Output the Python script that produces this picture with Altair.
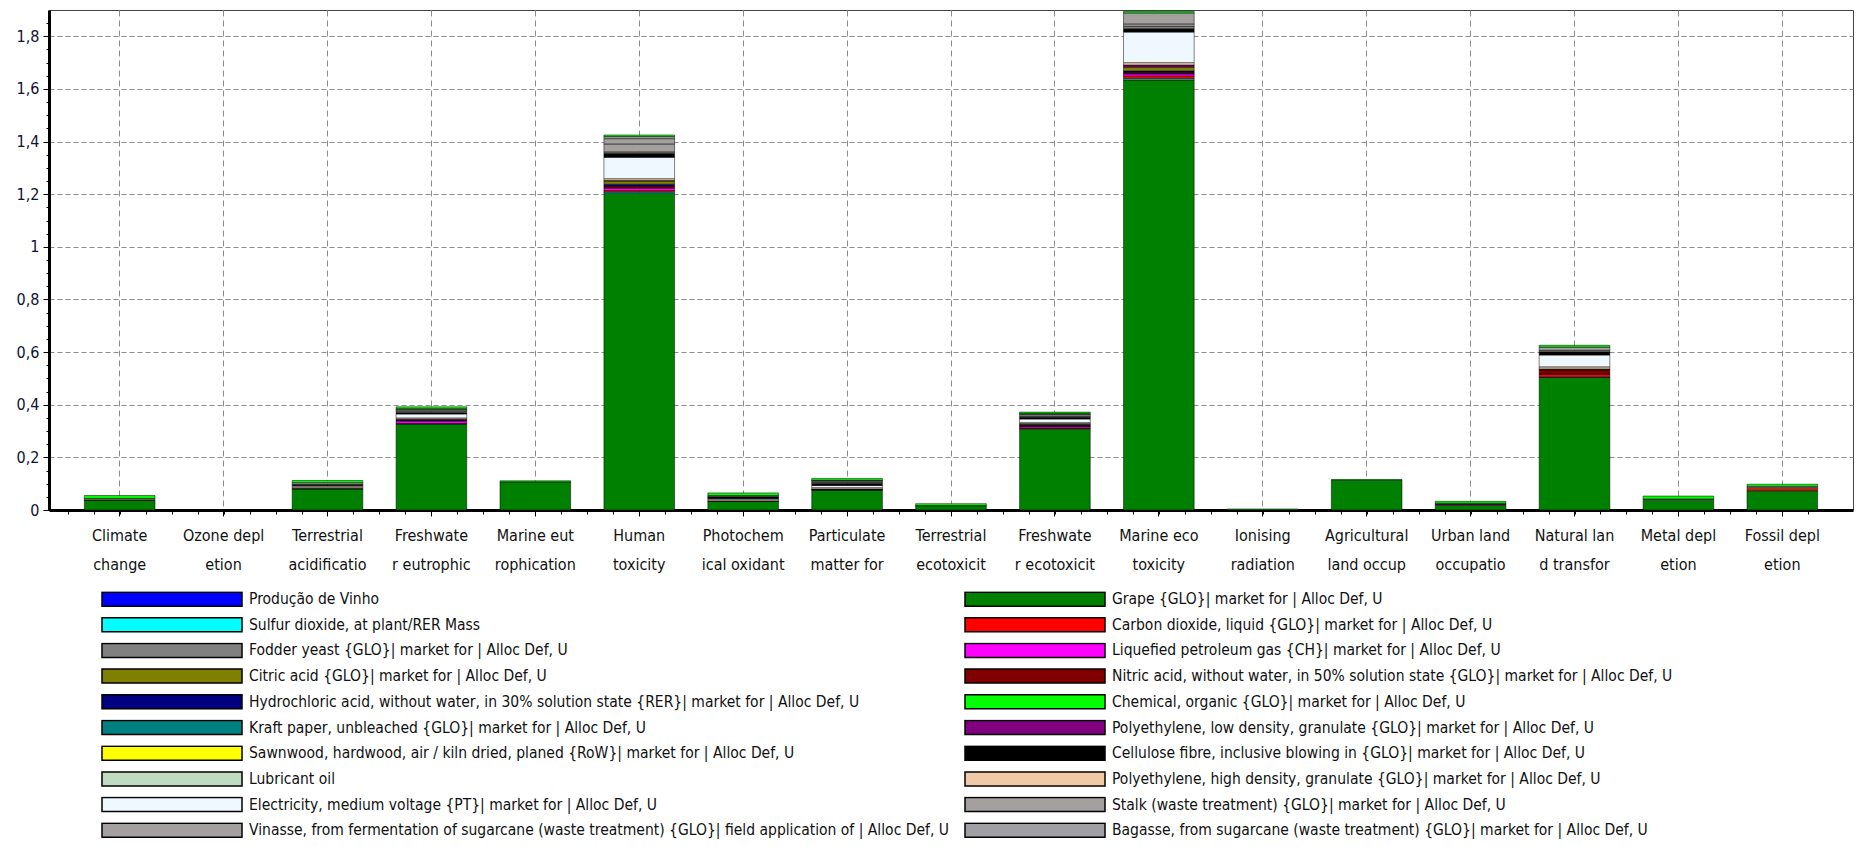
import altair as alt
import pandas as pd

FONT = "DejaVu Sans Condensed"

# x categories (two-line labels separated by "|")
categories = [
    "Climate|change", "Ozone depl|etion", "Terrestrial|acidificatio", "Freshwate|r eutrophic",
    "Marine eut|rophication", "Human|toxicity", "Photochem|ical oxidant", "Particulate|matter for",
    "Terrestrial|ecotoxicit", "Freshwate|r ecotoxicit", "Marine eco|toxicity", "Ionising|radiation",
    "Agricultural|land occup", "Urban land|occupatio", "Natural lan|d transfor", "Metal depl|etion",
    "Fossil depl|etion",
]

# legend columns
series_left = [
    "Produção de Vinho",
    "Sulfur dioxide, at plant/RER Mass",
    "Fodder yeast {GLO}| market for | Alloc Def, U",
    "Citric acid {GLO}| market for | Alloc Def, U",
    "Hydrochloric acid, without water, in 30% solution state {RER}| market for | Alloc Def, U",
    "Kraft paper, unbleached {GLO}| market for | Alloc Def, U",
    "Sawnwood, hardwood, air / kiln dried, planed {RoW}| market for | Alloc Def, U",
    "Lubricant oil",
    "Electricity, medium voltage {PT}| market for | Alloc Def, U",
    "Vinasse, from fermentation of sugarcane (waste treatment) {GLO}| field application of | Alloc Def, U",
]
colors_left = ["#0000ff", "#00ffff", "#808080", "#808000", "#000080",
               "#008080", "#ffff00", "#c0dcc0", "#f0f8ff", "#a4a0a0"]
series_right = [
    "Grape {GLO}| market for | Alloc Def, U",
    "Carbon dioxide, liquid {GLO}| market for | Alloc Def, U",
    "Liquefied petroleum gas {CH}| market for | Alloc Def, U",
    "Nitric acid, without water, in 50% solution state {GLO}| market for | Alloc Def, U",
    "Chemical, organic {GLO}| market for | Alloc Def, U",
    "Polyethylene, low density, granulate {GLO}| market for | Alloc Def, U",
    "Cellulose fibre, inclusive blowing in {GLO}| market for | Alloc Def, U",
    "Polyethylene, high density, granulate {GLO}| market for | Alloc Def, U",
    "Stalk (waste treatment) {GLO}| market for | Alloc Def, U",
    "Bagasse, from sugarcane (waste treatment) {GLO}| market for | Alloc Def, U",
]
colors_right = ["#008000", "#ff0000", "#ff00ff", "#800000", "#00ff00",
                "#800080", "#000000", "#f0caa6", "#a4a0a0", "#a0a0a4"]

# values per impact category (same order as categories)
grape        = [0.037, 0, 0.080, 0.327, 0.107, 1.204, 0.033, 0.075, 0.016, 0.307, 1.634, 0.001, 0.113, 0.018, 0.504, 0.036, 0.073]
sulfur       = [0, 0, 0.001, 0.001, 0, 0.004, 0, 0.001, 0, 0.002, 0.005, 0, 0, 0, 0.001, 0, 0]
carbon       = [0.001, 0, 0, 0.001, 0, 0.006, 0, 0.001, 0, 0.003, 0.010, 0, 0, 0, 0.010, 0, 0.009]
lpg          = [0, 0, 0.001, 0.009, 0, 0.009, 0, 0.001, 0, 0.005, 0.008, 0, 0, 0.003, 0.002, 0, 0]
nitric       = [0, 0, 0.001, 0.002, 0, 0.007, 0.001, 0.002, 0, 0.003, 0.005, 0, 0, 0, 0.015, 0, 0]
hydrochloric = [0, 0, 0, 0.002, 0, 0.008, 0, 0, 0, 0.003, 0.006, 0, 0, 0, 0.002, 0, 0]
citric       = [0, 0, 0, 0.002, 0, 0.012, 0, 0, 0, 0.004, 0.015, 0, 0, 0, 0.002, 0, 0]
pe_ld        = [0, 0, 0, 0.001, 0, 0.002, 0, 0, 0, 0.001, 0.008, 0, 0, 0.003, 0, 0, 0]
pe_hd        = [0.004, 0, 0.005, 0.005, 0, 0.007, 0.005, 0.005, 0, 0.004, 0.009, 0, 0, 0, 0.008, 0.004, 0.004]
electricity  = [0, 0, 0.004, 0.015, 0, 0.081, 0.004, 0.008, 0, 0.014, 0.116, 0, 0, 0.002, 0.045, 0, 0]
cellulose    = [0, 0, 0.004, 0.005, 0, 0.015, 0.006, 0.008, 0, 0.006, 0.013, 0, 0, 0, 0.012, 0, 0]
fodder       = [0, 0, 0.002, 0.004, 0, 0.006, 0.002, 0.004, 0, 0.004, 0.009, 0, 0, 0, 0.006, 0, 0]
stalk        = [0, 0, 0.006, 0.006, 0, 0.030, 0.004, 0.005, 0, 0.006, 0.009, 0, 0, 0, 0.012, 0, 0]
vinasse      = [0, 0, 0, 0.003, 0, 0.020, 0, 0.002, 0, 0.003, 0.042, 0, 0, 0, 0, 0, 0]
bagasse      = [0, 0, 0, 0.002, 0, 0.008, 0, 0.001, 0, 0.002, 0, 0, 0, 0, 0, 0, 0]
lubricant    = [0.002, 0, 0, 0, 0, 0, 0, 0, 0.001, 0, 0, 0, 0, 0, 0, 0.002, 0.004]
chemical     = [0.011, 0, 0.008, 0.007, 0.004, 0.006, 0.010, 0.007, 0.007, 0.005, 0.006, 0.003, 0.003, 0.007, 0.007, 0.011, 0.008]

# stacking order, bottom to top
stack = [
    (series_right[0], grape), (series_left[1], sulfur), (series_right[1], carbon),
    (series_right[2], lpg), (series_right[3], nitric), (series_left[4], hydrochloric),
    (series_left[3], citric), (series_right[5], pe_ld), (series_right[7], pe_hd),
    (series_left[8], electricity), (series_right[6], cellulose), (series_left[2], fodder),
    (series_right[8], stalk), (series_left[9], vinasse), (series_right[9], bagasse),
    (series_left[7], lubricant), (series_right[4], chemical),
]

y_ticks = [0, 0.2, 0.4, 0.6, 0.8, 1.0, 1.2, 1.4, 1.6, 1.8]
y_minor = [round(k * 0.05, 2) for k in range(38)]
x_minor = [k * 0.25 - 0.5 for k in range(68)]

rows = []
for o, (name, vals) in enumerate(stack):
    for c, v in zip(categories, vals):
        if v > 0:
            rows.append({"category": c, "series": name, "value": v, "ord": o})
df = pd.DataFrame(rows)

# Vega fills legend columns top-to-bottom first
legend_domain = series_left + series_right
legend_range = colors_left + colors_right

bars = alt.Chart(df).mark_bar(stroke="black", strokeWidth=0.5).encode(
    x=alt.X("category:N", sort=categories,
            scale=alt.Scale(domain=categories, paddingInner=0.32, paddingOuter=0.34),
            axis=alt.Axis(title=None, labelExpr="split(datum.label, '|')", labelAngle=0,
                          bandPosition=0.5, grid=True, gridDash=[6, 4], gridColor="#8c8c8c",
                          tickSize=6, tickColor="black", domainColor="black", domainWidth=3,
                          labelFont=FONT, labelFontSize=16, labelLineHeight=29, labelPadding=11,
                          labelColor="#111111", labelOverlap=False, labelLimit=300)),
    y=alt.Y("value:Q", stack="zero",
            scale=alt.Scale(domain=[0, 1.9], nice=False),
            axis=alt.Axis(title=None, values=y_ticks,
                          labelExpr="replace(format(datum.value, '~g'), '.', ',')",
                          grid=True, gridDash=[5, 3], gridColor="#8c8c8c",
                          tickSize=6, tickColor="black", domainColor="black", domainWidth=3,
                          labelFont=FONT, labelFontSize=16, labelPadding=4,
                          labelColor="#111133")),
    color=alt.Color("series:N", scale=alt.Scale(domain=legend_domain, range=legend_range),
                    legend=alt.Legend(title=None, orient="none", legendX=52, legendY=581,
                                      columns=2, symbolType="M-1,-0.1L1,-0.1L1,0.1L-1,0.1Z",
                                      symbolSize=19600, symbolStrokeColor="black",
                                      symbolStrokeWidth=1.5, symbolOpacity=1,
                                      labelFont=FONT, labelFontSize=15.5, labelColor="#111111",
                                      labelOffset=6, labelLimit=1200, rowPadding=8.7,
                                      columnPadding=14, clipHeight=16, gridAlign="each",
                                      padding=0)),
    order=alt.Order("ord:Q"),
)

tick_df = pd.DataFrame({"pos": [0], "zero": [0]})
ticks = alt.Chart(tick_df).mark_point(opacity=0).encode(
    x=alt.X("pos:Q", scale=alt.Scale(domain=[-0.68, 16.68], nice=False, zero=False),
            axis=alt.Axis(orient="bottom", values=x_minor, labels=False, domain=False,
                          grid=False, tickSize=4, tickColor="black", title=None)),
    y=alt.Y("zero:Q", scale=alt.Scale(domain=[0, 1.9], nice=False),
            axis=alt.Axis(orient="left", values=y_minor, labels=False, domain=False,
                          grid=False, tickSize=3, tickColor="black", title=None)),
)

chart = alt.layer(bars, ticks).resolve_scale(x="independent", y="independent").properties(
    width=1804, height=500,
    autosize=alt.AutoSizeParams(type="none"),
    padding={"left": 41, "top": 2, "right": 2, "bottom": 334},
).configure_view(stroke="#444444", strokeWidth=1)

chart.save("out.html", embed_options={"renderer": "svg", "actions": False})
